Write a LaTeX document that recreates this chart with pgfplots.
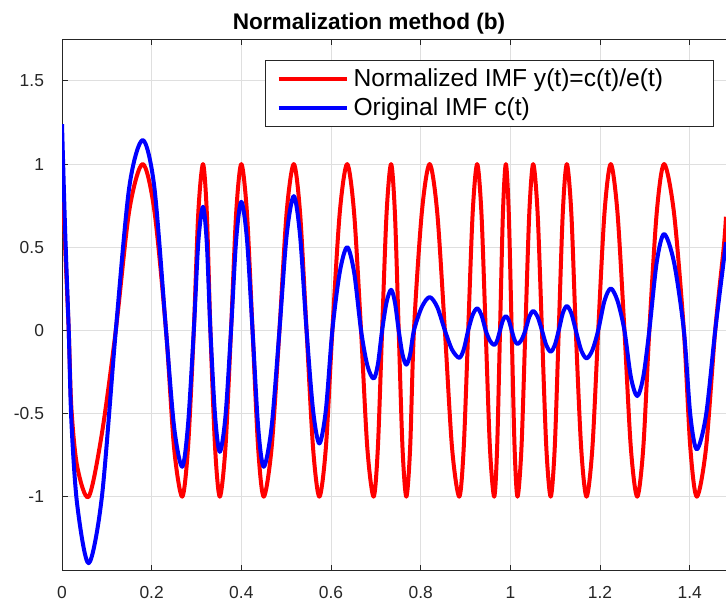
\documentclass[border=0pt]{standalone}
\usepackage{fontspec}
\setmainfont{Liberation Sans}
\usepackage{pgfplots}
\usepackage{pgfplotstable}
\pgfplotsset{compat=1.18}
\definecolor{axgray}{RGB}{38,38,38}
\definecolor{gridgray}{RGB}{223,223,223}

\pgfplotstableread{
t r b
0.000 0.97 1.24
0.007 0.50 0.60
0.015 0 0
0.021 -0.47 -0.55
0.034 -0.82 -1.05
0.0595 -1 -1.40
0.089 -0.62 -1.00
0.120 0 0
0.150 0.72 0.86
0.180 1 1.144
0.206 0.72 0.86
0.232 0 0
0.250 -0.707 -0.58
0.268 -1 -0.82
0.281 -0.707 -0.57
0.294 0 0
0.304 0.707 0.53
0.3145 1 0.743
0.323 0.707 0.525
0.331 0 0
0.3415 -0.707 -0.516
0.352 -1 -0.73
0.3645 -0.707 -0.52
0.377 0 0
0.3885 0.707 0.546
0.400 1 0.773
0.4125 0.707 0.55
0.425 0 0
0.4375 -0.707 -0.58
0.450 -1 -0.82
0.4675 -0.707 -0.58
0.485 0 0
0.501 0.707 0.57
0.517 1 0.807
0.531 0.707 0.57
0.5455 0 0
0.560 -0.707 -0.48
0.574 -1 -0.68
0.5885 -0.707 -0.48
0.603 0 0
0.6195 0.707 0.35
0.636 1 0.50
0.6515 0.707 0.35
0.667 0 0
0.681 -0.707 -0.21
0.695 -1 -0.29
0.7045 -0.707 -0.205
0.714 0 0
0.724 0.707 0.17
0.734 1 0.244
0.7425 0.707 0.17
0.751 0 0
0.7595 -0.707 -0.145
0.768 -1 -0.206
0.7765 -0.707 -0.145
0.785 0 0
0.8025 0.707 0.14
0.820 1 0.20
0.837 0.707 0.14
0.854 0 0
0.870 -0.707 -0.116
0.886 -1 -0.165
0.896 -0.707 -0.115
0.906 0 0
0.916 0.707 0.093
0.926 1 0.132
0.9355 0.707 0.093
0.945 0 0
0.9545 -0.707 -0.062
0.964 -1 -0.088
0.9705 -0.707 -0.062
0.977 0 0
0.9835 0.707 0.061
0.990 1 0.086
0.9965 0.707 0.061
1.003 0 0
1.0095 -0.707 -0.058
1.016 -1 -0.082
1.0248 -0.707 -0.058
1.0335 0 0
1.0423 0.707 0.082
1.051 1 0.116
1.0608 0.707 0.082
1.0705 0 0
1.0803 -0.707 -0.09
1.090 -1 -0.128
1.099 -0.707 -0.09
1.108 0 0
1.117 0.707 0.103
1.126 1 0.146
1.136 0.707 0.103
1.146 0 0
1.158 -0.707 -0.119
1.170 -1 -0.168
1.183 -0.707 -0.119
1.196 0 0
1.210 0.707 0.178
1.224 1 0.252
1.239 0.707 0.178
1.2545 0 0
1.2688 -0.707 -0.28
1.283 -1 -0.395
1.2965 -0.707 -0.28
1.310 0 0
1.3265 0.707 0.41
1.343 1 0.579
1.365 0.707 0.41
1.387 0 0
1.4015 -0.707 -0.51
1.416 -1 -0.715
1.4365 -0.707 -0.51
1.457 0 0
1.476 0.50 0.42
1.481 0.683 0.53
}\imf

\pgfplotsset{every axis title/.style={at={(0.4565,1)}, anchor=base, yshift=5pt}}

\begin{document}
\begin{tikzpicture}
\begin{axis}[
  scale only axis, width=336.25pt, height=265.7pt,
  xmin=0, xmax=1.5, ymin=-1.445, ymax=1.75,
  xtick={0,0.2,0.4,0.6,0.8,1,1.2,1.4},
  ytick={-1,-0.5,0,0.5,1,1.5},
  grid=major, major grid style={gridgray, line width=0.5pt},
  axis line style={axgray, line width=0.5pt},
  tick style={axgray, line width=0.5pt},
  major tick length=3pt,
  tick align=inside,
  tick label style={font=\fontsize{8.7}{10}\selectfont, text=axgray},
  /pgf/number format/assume math mode=true,
  xticklabel style={yshift=-4.5pt},
  yticklabel style={xshift=-5.5pt},
  title={Normalization method (b)},
  title style={font=\fontsize{11.3}{13}\selectfont\bfseries},
  legend style={at={(axis cs:1.4544,1.624)}, anchor=north east, draw=axgray, line width=0.5pt, fill=white, font=\fontsize{12.3}{14}\selectfont, inner xsep=5.5pt, inner ysep=2pt, cells={anchor=west}},
  legend image code/.code={\path (0pt,0pt) -- (3.5pt,0pt); \draw[#1, line width=2pt] (3.5pt,0pt) -- (34pt,0pt);},
]
\addplot[red, line width=2pt, smooth, line join=round] table[x=t,y=r]{\imf};
\addlegendentry{\hspace*{0.5pt}\makebox[172.5pt][l]{Normalized IMF y(t)=c(t)/e(t)}}
\addplot[blue, line width=2pt, smooth, line join=round] table[x=t,y=b]{\imf};
\addlegendentry{\hspace*{0.5pt}\makebox[172.5pt][l]{Original IMF c(t)}}
\end{axis}
\pgfresetboundingbox
\useasboundingbox ([shift={(-31pt,-15.65pt)}]current axis.south west) rectangle ([shift={(332pt,285.35pt)}]current axis.south west);
\end{tikzpicture}
\end{document}
